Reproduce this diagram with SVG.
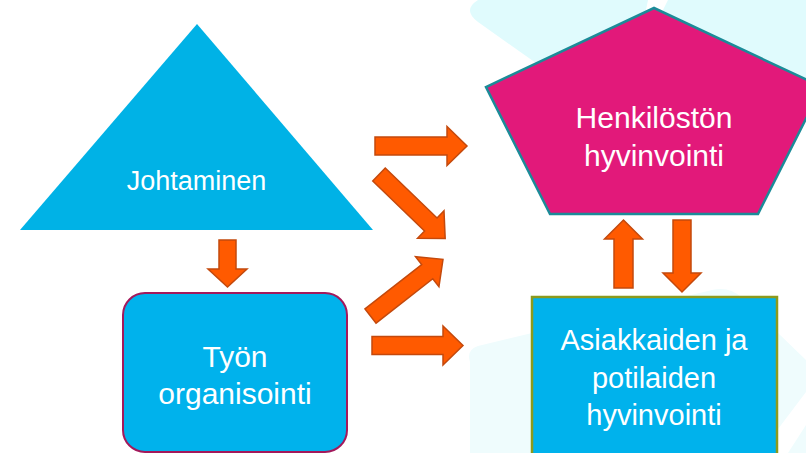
<svg xmlns="http://www.w3.org/2000/svg" width="806" height="453" viewBox="0 0 806 453">
<style>
.bg1{fill:#e0fbfd}
.bg2{fill:#effcfd}
.arr{fill:#ff5a00;stroke:#c4490c;stroke-width:1.5;stroke-linejoin:miter}
.lbl{font-family:"Liberation Sans",Arial,sans-serif;fill:#ffffff;text-anchor:middle}
</style>
<defs>
<path id="diag" d="M0,-9 L72,-9 L72,-19 L92,0 L72,19 L72,9 L0,9 Z"/>
</defs>
<rect x="0" y="0" width="806" height="453" fill="#ffffff"/>
<g id="background">
<path class="bg1" d="M478 0 L648 0 L640 40 L560 80 L478 22 Q462 10 478 0 Z"/>
<path class="bg1" d="M668 0 L806 0 L806 95 L700 60 L662 12 Z"/>
<path class="bg2" d="M470 362 Q466 350 478 346 L712 290 Q730 286 742 298 L806 360 L806 392 L760 453 L470 453 Z"/>
<path class="bg2" d="M806 425 L788 453 L806 453 Z"/>
</g>
<g id="connectors">
<polygon class="arr" points="375,137 447,137 447,126.5 467,146 447,165.5 447,155 375,155"/>
<use href="#diag" class="arr" transform="translate(379,174.5) rotate(44)"/>
<use href="#diag" class="arr" transform="translate(370.5,316) rotate(-38)"/>
<polygon class="arr" points="372,336.5 443,336.5 443,326 463,345.5 443,365 443,354.5 372,354.5"/>
<polygon class="arr" points="219,240 236,240 236,269 247,269 227.5,287 208,269 219,269"/>
<polygon class="arr" points="614,288 633,288 633,239 642.5,239 623.5,220 604.5,239 614,239"/>
<polygon class="arr" points="673,220 691,220 691,273 701,273 682,292 663,273 673,273"/>
</g>
<g id="johtaminen">
<polygon points="197,24 373,230 20,230" fill="#00b2e6"/>
<text class="lbl" x="196.5" y="190" font-size="27">Johtaminen</text>
</g>
<g id="henkiloston-hyvinvointi">
<polygon points="654,8 822,87 758,214 550,214 486,87" fill="#e2197a" stroke="#1b8b98" stroke-width="2.5" stroke-linejoin="miter"/>
<text class="lbl" x="654" y="128" font-size="30">Henkilöstön</text>
<text class="lbl" x="654" y="166" font-size="30">hyvinvointi</text>
</g>
<g id="tyon-organisointi">
<rect x="123" y="293" width="224" height="159" rx="22" ry="22" fill="#00b2ec" stroke="#a3195b" stroke-width="2"/>
<text class="lbl" x="235" y="367" font-size="30">Työn</text>
<text class="lbl" x="235" y="404" font-size="30">organisointi</text>
</g>
<g id="asiakkaiden-hyvinvointi">
<rect x="532" y="297" width="245" height="170" fill="#00b2ec" stroke="#8c9a1c" stroke-width="2.5"/>
<text class="lbl" x="654" y="350" font-size="29">Asiakkaiden ja</text>
<text class="lbl" x="654" y="388" font-size="29">potilaiden</text>
<text class="lbl" x="654" y="425" font-size="29">hyvinvointi</text>
</g>
</svg>
